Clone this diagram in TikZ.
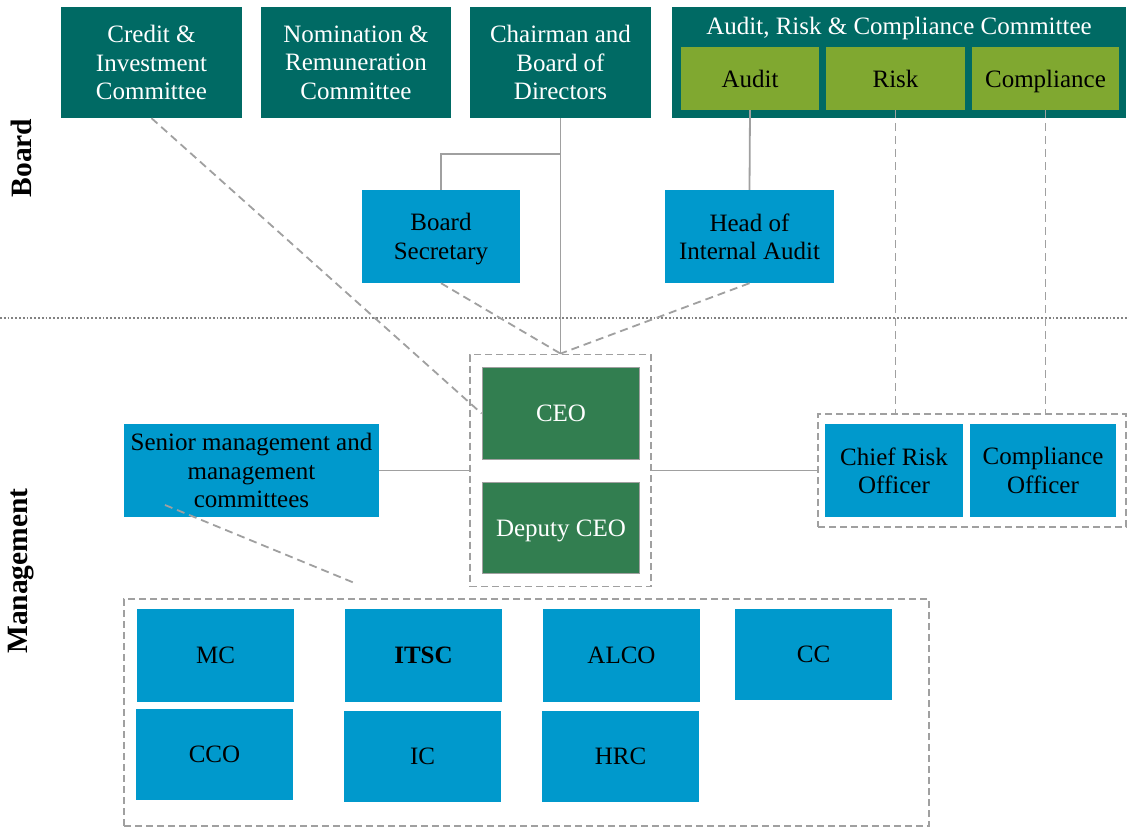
\documentclass[tikz,border=0pt]{standalone}
\usepackage{fontspec}
\setmainfont{Liberation Serif}
\definecolor{teal}{RGB}{0,106,100}
\definecolor{bluebox}{RGB}{0,153,204}
\definecolor{olive}{RGB}{128,168,48}
\definecolor{ceogreen}{RGB}{50,126,80}
\definecolor{linegray}{RGB}{160,160,160}
\definecolor{sepgray}{RGB}{130,130,130}
\begin{document}
\begin{tikzpicture}[x=1pt,y=-1pt,
  base/.style={inner sep=0pt, align=center, text depth=0pt, font=\fontsize{25}{28.5}\selectfont},
  tealbox/.style={base, fill=teal, text=white},
  olivebox/.style={base, fill=olive, text=black},
  bluenode/.style={base, fill=bluebox, text=black},
  ceobox/.style={base, fill=ceogreen, text=white, draw=linegray, line width=1.8pt},
  grpbox/.style={inner sep=0pt, draw=linegray, line width=1.8pt, dash pattern=on 7pt off 4pt},
  solidline/.style={draw=linegray, line width=1.8pt},
  dashline/.style={draw=linegray, line width=1.8pt, dash pattern=on 8pt off 5pt},
  sidelabel/.style={font=\fontsize{29.5}{32}\selectfont\bfseries, rotate=90}]
\useasboundingbox (0,0) rectangle (1129,827);
\fill[white] (0,0) rectangle (1129,827);

% separator
\draw[sepgray, line width=1.8pt, dotted] (0,318) -- (1129,318);

% side labels
\node[sidelabel] (lboard) at (21,158) {Board};
\node[sidelabel] (lmgmt) at (21,571) {Management};

% board committees
\node[tealbox, minimum width=181, minimum height=111] (credit) at (151.5,62.5) {Credit \&\\Investment\\Committee};
\node[tealbox, minimum width=190, minimum height=111] (nomin) at (356,62.5) {Nomination \&\\Remuneration\\Committee};
\node[tealbox, minimum width=181, minimum height=111] (chair) at (560.5,62.5) {Chairman and\\Board of\\Directors};
\node[tealbox, minimum width=454, minimum height=111] (arc) at (899,62.5) {};
\node[base, text=white] (arctitle) at (899,26) {Audit, Risk \& Compliance Committee};
\node[olivebox, minimum width=138, minimum height=63] (audit) at (750,78.5) {Audit};
\node[olivebox, minimum width=139, minimum height=63] (risk) at (895.5,78.5) {Risk};
\node[olivebox, minimum width=147, minimum height=63] (compl) at (1045.5,78.5) {Compliance};

% board level blue
\node[bluenode, minimum width=158, minimum height=93] (secr) at (441,236.5) {Board\\Secretary};
\node[bluenode, minimum width=169, minimum height=93] (hia) at (749.5,236.5) {Head of\\Internal Audit};

% CEO group
\node[grpbox, minimum width=181, minimum height=232] (ceogrp) at (560.5,470.5) {};
\node[ceobox, minimum width=157, minimum height=92] (ceo) at (561,413.5) {CEO};
\node[ceobox, minimum width=157, minimum height=91] (dceo) at (561,528) {Deputy CEO};

% senior mgmt
\node[bluenode, minimum width=255, minimum height=93] (senior) at (251.5,470.5) {Senior management and\\management\\committees};

% CRO group
\node[grpbox, minimum width=308, minimum height=113] (crogrp) at (972,470.5) {};
\node[bluenode, minimum width=138, minimum height=93] (cro) at (894,470.5) {Chief Risk\\Officer};
\node[bluenode, minimum width=146, minimum height=93] (co) at (1043,470.5) {Compliance\\Officer};

% committees group
\node[grpbox, minimum width=805, minimum height=227] (comgrp) at (526.5,712.5) {};
\node[bluenode, minimum width=157, minimum height=93] (mc) at (215.5,655.5) {MC};
\node[bluenode, minimum width=157, minimum height=93, font=\fontsize{25}{28.5}\selectfont\bfseries] (itsc) at (423.5,655.5) {ITSC};
\node[bluenode, minimum width=157, minimum height=93] (alco) at (621.5,655.5) {ALCO};
\node[bluenode, minimum width=157, minimum height=91] (cc) at (813.5,654.5) {CC};
\node[bluenode, minimum width=157, minimum height=91] (cco) at (214.5,754.5) {CCO};
\node[bluenode, minimum width=157, minimum height=91] (ic) at (422.5,756.5) {IC};
\node[bluenode, minimum width=157, minimum height=91] (hrc) at (620.5,756.5) {HRC};

% solid connectors
\coordinate (branch) at (560.5,154);
\draw[solidline] (chair.south) -- (ceogrp.north);
\draw[solidline] (branch) -| (secr.north);
\draw[solidline] (audit.south) -- (hia.north);
\draw[solidline] (senior.east) -- (ceogrp.west);
\draw[solidline] (ceogrp.east) -- (crogrp.west);

% dashed connectors
\draw[dashline] (credit.south) -- (ceo.west);
\draw[dashline] (secr.south) -- (ceogrp.north);
\draw[dashline] (hia.south) -- (ceogrp.north);
\draw[dashline] (risk.south) -- (risk.south |- crogrp.north);
\draw[dashline] (compl.south) -- (compl.south |- crogrp.north);
\coordinate (smstart) at (165,505);
\coordinate (smend) at (357,584);
\draw[dashline] (smstart) -- (smend);
\end{tikzpicture}
\end{document}
